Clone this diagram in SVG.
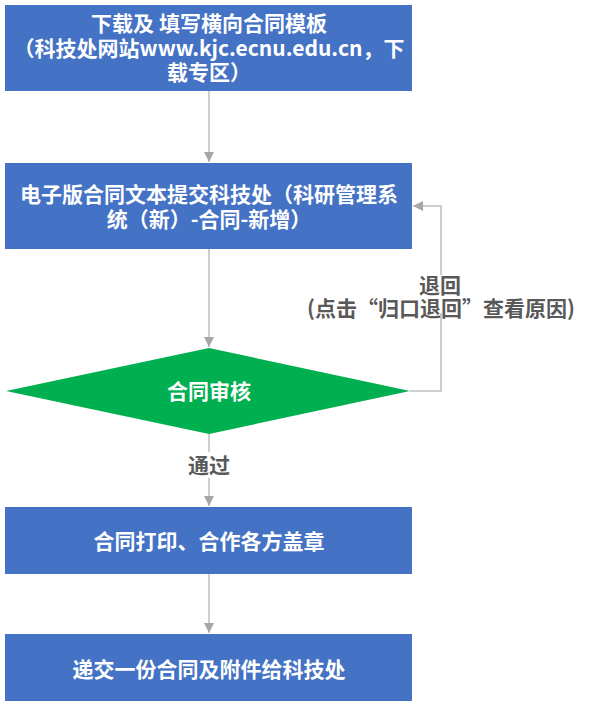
<svg xmlns="http://www.w3.org/2000/svg" width="601" height="703" viewBox="0 0 601 703">
<defs>
<style>
.box{fill:#4472C4;}
.dia{fill:#00B050;}
.t{font-family:"Noto Sans CJK SC","Liberation Sans",sans-serif;font-weight:bold;font-size:21px;fill:#FFFFFF;text-anchor:middle;}
.lbl{font-family:"Noto Sans CJK SC","Liberation Sans",sans-serif;font-weight:bold;font-size:21px;fill:#595959;text-anchor:middle;}
.c{fill:none;stroke:#BFBFBF;stroke-width:1.5;}
</style>
<marker id="ah" markerUnits="userSpaceOnUse" markerWidth="10" markerHeight="10" viewBox="0 0 10 10" refX="10" refY="5" orient="auto">
<path d="M0,0 L10,5 L0,10 Z" fill="#A6A6A6"/>
</marker>
</defs>
<rect width="601" height="703" fill="#FFFFFF"/>
<g id="connectors">
<line class="c" x1="209" y1="91" x2="209" y2="162" marker-end="url(#ah)"/>
<line class="c" x1="209" y1="249" x2="209" y2="347" marker-end="url(#ah)"/>
<line class="c" x1="209" y1="434" x2="209" y2="506" marker-end="url(#ah)"/>
<line class="c" x1="209" y1="574" x2="209" y2="633" marker-end="url(#ah)"/>
<polyline class="c" points="410,391 441,391 441,206 413,206" marker-end="url(#ah)"/>
<g id="label-pass">
<rect x="184" y="452" width="50" height="26" fill="#FFFFFF"/>
<text class="lbl" x="209" y="473">通过</text>
</g>
<g id="label-return">
<rect x="300" y="275" width="285" height="38" fill="#FFFFFF"/>
<text class="lbl" x="440" y="293">退回</text>
<text class="lbl" x="441" y="316">(点击“归口退回”查看原因)</text>
</g>
</g>
<g id="node1">
<rect class="box" x="5" y="5" width="407" height="86"/>
<text class="t" x="209" y="31">下载及 填写横向合同模板</text>
<text class="t" x="209" y="55.5">（科技处网站www.kjc.ecnu.edu.cn，下</text>
<text class="t" x="209" y="80">载专区）</text>
</g>
<g id="node2">
<rect class="box" x="5" y="163" width="407" height="86"/>
<text class="t" x="209" y="201.5">电子版合同文本提交科技处（科研管理系</text>
<text class="t" x="209" y="226.5">统（新）-合同-新增）</text>
</g>
<g id="node3">
<polygon class="dia" points="209,348 410,391 209,434 6,391"/>
<text class="t" x="209" y="399">合同审核</text>
</g>
<g id="node4">
<rect class="box" x="5" y="507" width="407" height="67"/>
<text class="t" x="209" y="549">合同打印、合作各方盖章</text>
</g>
<g id="node5">
<rect class="box" x="5" y="634" width="407" height="67"/>
<text class="t" x="209" y="677">递交一份合同及附件给科技处</text>
</g>
</svg>
